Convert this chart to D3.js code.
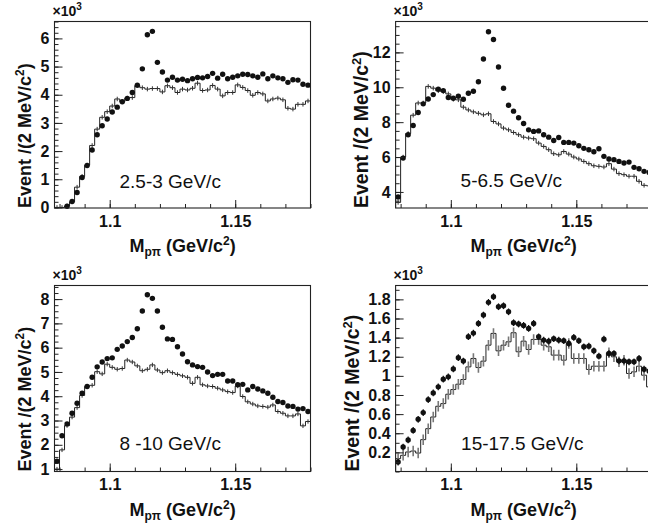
<!DOCTYPE html>
<html>
<head>
<meta charset="utf-8">
<script src="https://cdn.jsdelivr.net/npm/d3@7"></script>
<style>
  body { margin: 0; background: #fff; }
  svg { display: block; }
  text { font-family: "Liberation Sans", Arial, Helvetica, sans-serif; fill: #111; }
</style>
</head>
<body>
<svg id="chart" width="648" height="529"></svg>
<script>
// p-pi invariant mass spectra, 2 MeV bins from 1.078 to 1.180 GeV/c^2
const massLow = 1.078, massHigh = 1.180, binWidth = 0.002;
const xMajorTicks = [1.1, 1.15];
const xMajorLabels = ["1.1", "1.15"];

// event counts in units of 10^3; "signal" = filled points, "hist" = reference histogram
const p1Signal = [null, null, 0.04, 0.21, 0.53, 1.06, 1.49, 2.04, 2.58, 2.90, 3.14, 3.39, 3.56, 3.75, 3.87, 4.08, 4.34, 4.92, 6.13, 6.25, 5.15, 4.81, 4.52, 4.62, 4.52,
  4.55, 4.50, 4.57, 4.61, 4.60, 4.65, 4.76, 4.59, 4.73, 4.57, 4.62, 4.67, 4.73, 4.72, 4.67, 4.62, 4.74, 4.57, 4.67, 4.60, 4.57, 4.44, 4.53, 4.52, 4.37, 4.34];
const p1Hist = [0, 0, 0.05, 0.2, 0.72, 1.1, 1.5, 2.2, 2.78, 3.2, 3.4, 3.6, 3.85, 3.75, 3.88, 3.9, 4.32, 4.25, 4.2, 4.22, 4.22, 4.1, 4.32, 4.25, 4.08,
  4.20, 4.17, 4.23, 4.41, 4.15, 4.17, 4.33, 4.20, 3.96, 4.08, 4.08, 4.35, 4.26, 4.15, 3.98, 4.08, 4.03, 3.78, 3.85, 3.88, 3.82, 3.52, 3.49, 3.66, 3.66, 3.78];
const p1Ticks = [0, 1, 2, 3, 4, 5, 6];

const p2Signal = [3.71, 5.94, 7.28, 7.81, 8.55, 9.05, 9.33, 9.58, 9.89, 9.81, 9.41, 9.37, 9.49, 9.31, 9.66, 9.77, 10.32, 11.62, 13.18, 12.74, 11.16, 9.94, 8.97, 8.63, 8.25,
  7.92, 7.56, 7.47, 7.50, 7.28, 7.14, 6.95, 7.12, 6.84, 6.84, 6.80, 6.65, 6.50, 6.42, 6.30, 6.48, 6.04, 5.89, 5.85, 5.75, 5.66, 5.71, 5.41, 5.33, 5.18, 5.12];
const p2Hist = [3.4, 6.0, 7.35, 8.4, 9.1, 9.1, 10.05, 9.95, 9.8, 9.75, 9.62, 9.31, 9.28, 8.86, 8.70, 8.59, 8.51, 8.42, 8.48, 8.04, 7.90, 7.66, 7.56, 7.41, 7.28,
  7.14, 7.09, 7.05, 6.80, 6.61, 6.42, 6.19, 6.13, 6.32, 6.17, 6.00, 5.89, 5.75, 5.62, 5.50, 5.47, 5.43, 5.62, 5.31, 5.05, 4.99, 4.90, 4.90, 4.61, 4.38, 4.35];
const p2Ticks = [4, 6, 8, 10, 12];

const p3Signal = [1.32, 2.37, 2.86, 3.30, 3.71, 4.12, 4.40, 4.78, 5.21, 5.41, 5.55, 5.58, 5.93, 6.07, 6.25, 6.42, 6.78, 7.51, 8.18, 8.03, 7.51, 6.84, 6.36, 6.34, 6.04,
  5.74, 5.42, 5.29, 5.22, 5.19, 5.00, 4.85, 4.90, 4.90, 4.63, 4.63, 4.47, 4.49, 4.26, 4.40, 4.30, 4.22, 4.12, 3.96, 3.78, 3.74, 3.60, 3.58, 3.47, 3.49, 3.37];
const p3Hist = [1.0, 1.79, 2.79, 3.14, 3.53, 4.03, 4.40, 4.45, 5.01, 4.92, 5.32, 5.19, 5.11, 5.14, 5.49, 5.41, 5.25, 5.05, 5.11, 5.29, 5.08, 4.97, 5.05, 4.97, 4.90,
  4.84, 4.78, 4.53, 4.78, 4.47, 4.42, 4.40, 4.33, 4.26, 4.19, 4.15, 4.42, 3.99, 3.77, 3.68, 3.60, 3.58, 3.55, 3.64, 3.37, 3.30, 3.19, 3.19, 3.27, 2.78, 2.96];
const p3Ticks = [1, 2, 3, 4, 5, 6, 7, 8];

const p4Signal = [0.099, 0.256, 0.33, 0.43, 0.546, 0.616, 0.752, 0.822, 0.885, 0.965, 0.99, 1.073, 1.19, 1.155, 1.41, 1.447, 1.548, 1.636, 1.769, 1.828, 1.723, 1.733, 1.67, 1.556, 1.542,
  1.528, 1.496, 1.548, 1.409, 1.374, 1.363, 1.388, 1.374, 1.367, 1.339, 1.402, 1.367, 1.304, 1.311, 1.262, 1.206, 1.384, 1.234, 1.234, 1.157, 1.157, 1.147, 1.147, 1.182, 1.07, 1.05];
const p4Hist = [0.134, 0.169, 0.204, 0.214, 0.193, 0.333, 0.448, 0.57, 0.682, 0.71, 0.808, 0.857, 0.913, 0.962, 1.094, 1.182, 1.087, 1.154, 1.321, 1.444, 1.262, 1.321, 1.356, 1.451, 1.252,
  1.363, 1.276, 1.381, 1.381, 1.321, 1.304, 1.217, 1.217, 1.164, 1.339, 1.182, 1.182, 1.182, 1.067, 1.101, 1.101, 1.101, 1.241, 1.199, 1.147, 1.164, 1.025, 1.042, 1.101, 1.007, 0.885];
const p4Ticks = [0.2, 0.4, 0.6, 0.8, 1, 1.2, 1.4, 1.6, 1.8];

const momentumLabels = ["2.5-3 GeV/c", "5-6.5 GeV/c", "8 -10 GeV/c", "15-17.5 GeV/c"];

// half-heights of the error bars (10^3 events)
const histErrors = [0.08, 0.13, 0.09, 0.055];
const signalErrors = [0, 0, 0, 0.035];

const panels = [
  { signal: p1Signal, hist: p1Hist, ticks: p1Ticks, yDomain: [-0.02, 6.6], minorStep: 0.2 },
  { signal: p2Signal, hist: p2Hist, ticks: p2Ticks, yDomain: [3.08, 13.77], minorStep: 0.5 },
  { signal: p3Signal, hist: p3Hist, ticks: p3Ticks, yDomain: [0.9, 8.56], minorStep: 0.25 },
  { signal: p4Signal, hist: p4Hist, ticks: p4Ticks, yDomain: [0, 1.945], minorStep: 0.1 }
];

// frame boxes and text placement of the 2x2 grid
const layout = [
  { x0: 54.5, x1: 310.5, y0: 21.5, y1: 208, titleX: 30.5, titleSize: 18, labelDx: 65, labelDy: 20 },
  { x0: 395.6, x1: 651.6, y0: 21.5, y1: 208, titleX: 367.5, titleSize: 19.5, labelDx: 65, labelDy: 21.5 },
  { x0: 54.5, x1: 310.5, y0: 285.5, y1: 471.5, titleX: 30.5, titleSize: 18, labelDx: 65, labelDy: 22 },
  { x0: 395.6, x1: 651.6, y0: 285.5, y1: 471.5, titleX: 358.5, titleSize: 19.5, labelDx: 65.5, labelDy: 22 }
];

const svg = d3.select("#chart");
const nBins = p1Hist.length;
const binLow = i => massLow + i * binWidth;
const binMid = i => massLow + (i + 0.5) * binWidth;

function rangeStep(lo, hi, step) {
  const out = [];
  const start = Math.ceil(lo / step - 1e-9);
  for (let k = start; k * step <= hi + 1e-9; k++) out.push(+(k * step).toFixed(6));
  return out;
}

panels.forEach((p, idx) => {
  const f = layout[idx];
  const x = d3.scaleLinear().domain([massLow, massHigh]).range([f.x0, f.x1]);
  const y = d3.scaleLinear().domain(p.yDomain).range([f.y1, f.y0]);
  const g = svg.append("g");

  const clipId = "clip" + idx;
  g.append("clipPath").attr("id", clipId)
    .append("rect").attr("x", f.x0).attr("y", f.y0)
    .attr("width", f.x1 - f.x0).attr("height", f.y1 - f.y0);

  // histogram outline: rises from the bottom of the frame, then one flat step per bin
  const outline = [[x(massLow), y(p.yDomain[0])]];
  p.hist.forEach((v, i) => {
    outline.push([x(binLow(i)), y(v)], [x(binLow(i + 1)), y(v)]);
  });
  const plot = g.append("g").attr("clip-path", `url(#${clipId})`);
  plot.append("path")
    .attr("d", d3.line()(outline))
    .attr("fill", "none")
    .attr("stroke", "#222")
    .attr("stroke-width", 1);

  // histogram error bars
  plot.append("g").selectAll("line")
    .data(p.hist)
    .join("line")
    .attr("x1", (d, i) => x(binMid(i)))
    .attr("x2", (d, i) => x(binMid(i)))
    .attr("y1", d => y(d - histErrors[idx]))
    .attr("y2", d => y(d + histErrors[idx]))
    .attr("stroke", idx === 3 ? "#777" : "#333")
    .attr("stroke-width", idx === 3 ? 1.6 : 1);

  // signal points
  const pts = p.signal.map((v, i) => ({ m: binMid(i), v })).filter(d => d.v !== null);
  if (signalErrors[idx] > 0) {
    g.append("g").selectAll("line")
      .data(pts)
      .join("line")
      .attr("x1", d => x(d.m)).attr("x2", d => x(d.m))
      .attr("y1", d => y(d.v - signalErrors[idx]))
      .attr("y2", d => y(d.v + signalErrors[idx]))
      .attr("stroke", "#111").attr("stroke-width", 1.2);
  }
  g.append("g").selectAll("circle")
    .data(pts)
    .join("circle")
    .attr("cx", d => x(d.m))
    .attr("cy", d => y(d.v))
    .attr("r", 2.7)
    .attr("fill", "#111");

  // axes with inward ticks
  const xMinor = rangeStep(1.08, massHigh, 0.01);
  const xAxisMinor = d3.axisBottom(x).tickValues(xMinor).tickSize(-4).tickFormat("");
  const xAxisMajor = d3.axisBottom(x).tickValues(xMajorTicks).tickSize(-8).tickPadding(7.5)
    .tickFormat((d, i) => xMajorLabels[i]);
  const yMinor = rangeStep(p.yDomain[0], p.yDomain[1], p.minorStep);
  const yAxisMinor = d3.axisLeft(y).tickValues(yMinor).tickSize(-4).tickFormat("");
  const yAxisMajor = d3.axisLeft(y).tickValues(p.ticks).tickSize(-8).tickPadding(5)
    .tickFormat(d3.format("~g"));

  [xAxisMinor, xAxisMajor].forEach(ax => {
    const a = g.append("g").attr("transform", `translate(0,${f.y1})`).call(ax);
    a.select(".domain").remove();
  });
  [yAxisMinor, yAxisMajor].forEach(ax => {
    const a = g.append("g").attr("transform", `translate(${f.x0},0)`).call(ax);
    a.select(".domain").remove();
  });
  g.selectAll(".tick line").attr("stroke", "#222");
  g.selectAll(".tick text")
    .attr("fill", "#111")
    .style("font-family", '"Liberation Sans", Arial, sans-serif')
    .style("font-size", "16px")
    .style("font-weight", "bold");

  // frame
  g.append("rect")
    .attr("x", f.x0).attr("y", f.y0)
    .attr("width", f.x1 - f.x0).attr("height", f.y1 - f.y0)
    .attr("fill", "none").attr("stroke", "#222").attr("stroke-width", 1.1);

  // x10^3 multiplier
  const mult = g.append("text")
    .attr("x", f.x0 - 2).attr("y", f.y0 - 6)
    .style("font-size", "14px").style("font-weight", "bold");
  mult.append("tspan").text("\u00d710");
  mult.append("tspan").attr("dy", -6).style("font-size", "10px").text("3");

  // x axis title
  const xt = g.append("text")
    .attr("x", (f.x0 + f.x1) / 2).attr("y", f.y1 + 44)
    .attr("text-anchor", "middle")
    .style("font-size", "18px").style("font-weight", "bold");
  xt.append("tspan").text("M");
  xt.append("tspan").attr("dy", 4).style("font-size", "12px").text("p\u03c0");
  xt.append("tspan").attr("dy", -4).text(" (GeV/c");
  xt.append("tspan").attr("dy", -7).style("font-size", "12px").text("2");
  xt.append("tspan").attr("dy", 7).text(")");

  // y axis title
  const yt = g.append("text")
    .attr("transform", `translate(${f.titleX},${f.y1}) rotate(-90)`)
    .attr("text-anchor", "start")
    .style("font-size", f.titleSize + "px").style("font-weight", "bold");
  yt.append("tspan").text("Event /(2 MeV/c");
  yt.append("tspan").attr("dy", -7).style("font-size", (f.titleSize * 0.66) + "px").text("2");
  yt.append("tspan").attr("dy", 7).text(")");

  // beam momentum label
  g.append("text")
    .attr("x", f.x0 + f.labelDx).attr("y", f.y1 - f.labelDy)
    .style("font-size", "19px")
    .text(momentumLabels[idx]);
});
</script>
</body>
</html>
